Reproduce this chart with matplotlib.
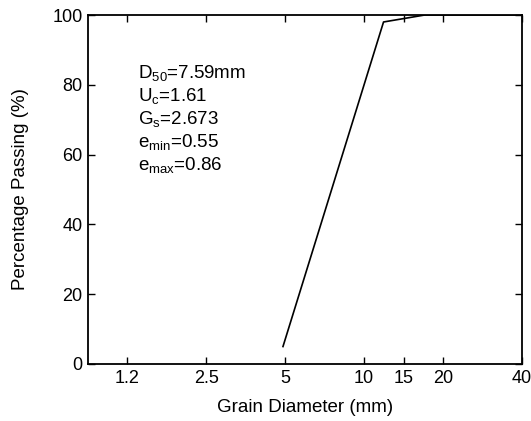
import numpy as np
import matplotlib
matplotlib.use("Agg")
import matplotlib.pyplot as plt

plt.rcParams['font.family'] = ['Liberation Sans', 'DejaVu Sans']
plt.rcParams['mathtext.fontset'] = 'custom'
plt.rcParams['mathtext.rm'] = 'Liberation Sans'
plt.rcParams['mathtext.it'] = 'Liberation Sans'

# Data
diameter = [4.9, 12.2, 17.5, 40]
passing = [5, 98, 100, 100]
tick_values = [1.2, 2.5, 5, 10, 15, 20, 40]
tick_labels = ['1.2', '2.5', '5', '10', '15', '20', '40']
tick_slots = [0, 1, 2, 3, 3.5, 4, 5]
annot = [r'D$_{\mathregular{50}}$=7.59mm', r'U$_{\mathregular{c}}$=1.61',
         r'G$_{\mathregular{s}}$=2.673', r'e$_{\mathregular{min}}$=0.55',
         r'e$_{\mathregular{max}}$=0.86']

LT = np.log(np.array(tick_values))
P = np.array(tick_slots, dtype=float)


def fwd(x):
    x = np.asarray(x, dtype=float)
    lx = np.log(np.clip(x, 1e-9, None))
    y = np.interp(lx, LT, P)
    s0 = (P[1] - P[0]) / (LT[1] - LT[0])
    s1 = (P[-1] - P[-2]) / (LT[-1] - LT[-2])
    y = np.where(lx < LT[0], P[0] + (lx - LT[0]) * s0, y)
    y = np.where(lx > LT[-1], P[-1] + (lx - LT[-1]) * s1, y)
    return y


def inv(p):
    p = np.asarray(p, dtype=float)
    lx = np.interp(p, P, LT)
    s0 = (LT[1] - LT[0]) / (P[1] - P[0])
    s1 = (LT[-1] - LT[-2]) / (P[-1] - P[-2])
    lx = np.where(p < P[0], LT[0] + (p - P[0]) * s0, lx)
    lx = np.where(p > P[-1], LT[-1] + (p - P[-1]) * s1, lx)
    return np.exp(lx)


fig = plt.figure(figsize=(5.31, 4.21), dpi=100)
ax = fig.add_axes([88/531, 57/421, (522-88)/531, (364-15)/421])
ax.set_xscale('function', functions=(fwd, inv))

ax.plot(diameter, passing, color='black', lw=1.2)

ax.set_xlim(float(inv(-0.5)), 40)
ax.set_ylim(0, 100)
ax.set_xticks(tick_values)
ax.set_xticklabels(tick_labels)
ax.minorticks_off()
ax.set_yticks([0, 20, 40, 60, 80, 100])
ax.tick_params(direction='in', top=True, right=True, length=5, width=1,
               labelsize=13, pad=4)
for s in ax.spines.values():
    s.set_linewidth(1.3)

ax.set_xlabel('Grain Diameter (mm)', fontsize=13.5, labelpad=9)
ax.set_ylabel('Percentage Passing (%)', fontsize=13.5, labelpad=17)

for i, t in enumerate(annot):
    ax.text(138, 421 - 78 - 23 * i, t, transform=None, fontsize=13.5,
            ha='left', va='baseline')

fig.savefig('out.png', dpi=100)
